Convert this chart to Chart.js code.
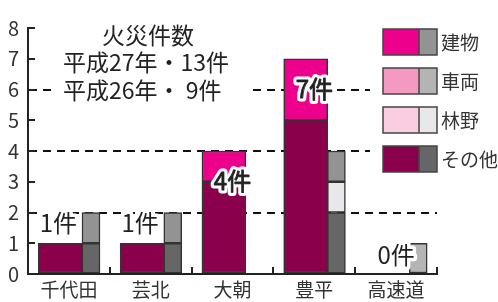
<!DOCTYPE html>
<html>
<head>
<meta charset="utf-8">
<script src="https://cdn.jsdelivr.net/npm/chart.js@4.4.1/dist/chart.umd.min.js"></script>
<style>
  html, body { margin: 0; padding: 0; background: #fff; }
  #wrap { position: relative; width: 498px; height: 302px; }
</style>
</head>
<body>
<div id="wrap"><canvas id="fire-chart" width="498" height="302"></canvas></div>
<script>
const areas = ['千代田', '芸北', '大朝', '豊平', '高速道'];
const kinds = ['建物', '車両', '林野', 'その他'];

// 平成27年 (bottom to top: その他, 林野, 車両, 建物)
const h27Building = [0, 0, 1, 2, 0];
const h27Vehicle = [0, 0, 0, 0, 0];
const h27Forest = [0, 0, 0, 0, 0];
const h27Other = [1, 1, 3, 5, 0];

// 平成26年
const h26Building = [1, 1, 0, 1, 0];
const h26Vehicle = [0, 0, 0, 0, 1];
const h26Forest = [0, 0, 0, 1, 0];
const h26Other = [1, 1, 0, 2, 0];

const yMin = 0;
const yMax = 8;
const dashedAt = [2, 4, 6];
const titleLines = ['火災件数', '平成27年・13件', '平成26年・ 9件'];

const curColors = { '建物': '#EC008C', '車両': '#F49AC1', '林野': '#FACDE0', 'その他': '#8B004B' };
const prevColors = { '建物': '#939393', '車両': '#B4B4B4', '林野': '#E8E8EA', 'その他': '#666666' };

const FONT = '"Noto Sans CJK JP", "Noto Sans", sans-serif';
const CUR_SHIFT = -0.105;  // current bar sits left of the category centre
const PREV_SHIFT = 0.27;   // previous-year bar sits to its right

const h27Total = areas.map((_, i) => h27Building[i] + h27Vehicle[i] + h27Forest[i] + h27Other[i]);

const toPoints = values => values.map((v, i) => ({ x: i, y: v === 0 ? null : v }));

const barDataset = (label, values, color, axis, width) => ({
  label,
  data: toPoints(values),
  backgroundColor: color,
  borderColor: '#333',
  borderWidth: 1.5,
  borderSkipped: false,
  barThickness: width,
  grouped: false,
  xAxisID: axis,
  stack: axis
});

const datasets = [
  barDataset('その他', h27Other, curColors['その他'], 'xc', 44),
  barDataset('林野', h27Forest, curColors['林野'], 'xc', 44),
  barDataset('車両', h27Vehicle, curColors['車両'], 'xc', 44),
  barDataset('建物', h27Building, curColors['建物'], 'xc', 44),
  barDataset('その他', h26Other, prevColors['その他'], 'xp', 18),
  barDataset('林野', h26Forest, prevColors['林野'], 'xp', 18),
  barDataset('車両', h26Vehicle, prevColors['車両'], 'xp', 18),
  barDataset('建物', h26Building, prevColors['建物'], 'xp', 18)
];

// white boxes with title and legend, drawn over the grid but under the bars
const overlay = {
  id: 'overlay',
  beforeDatasetsDraw(chart) {
    const ctx = chart.ctx;
    ctx.save();
    ctx.fillStyle = '#fff';
    ctx.fillRect(55, 18, 193, 86);
    ctx.fillRect(370, 20, 128, 158);

    ctx.fillStyle = '#222';
    ctx.font = '23px ' + FONT;
    ctx.textBaseline = 'middle';
    ctx.textAlign = 'center';
    ctx.fillText(titleLines[0], 148, 35);
    ctx.textAlign = 'left';
    ctx.fillText(titleLines[1], 63, 62.5);
    ctx.fillText(titleLines[2], 63, 90);

    ctx.font = '19px ' + FONT;
    kinds.forEach((kind, i) => {
      const top = 29 + i * 39;
      ctx.fillStyle = curColors[kind];
      ctx.fillRect(383, top, 36, 26);
      ctx.fillStyle = prevColors[kind];
      ctx.fillRect(419, top, 18, 26);
      ctx.strokeStyle = '#444';
      ctx.lineWidth = 1.5;
      ctx.strokeRect(383, top, 54, 26);
      ctx.beginPath();
      ctx.moveTo(419, top);
      ctx.lineTo(419, top + 26);
      ctx.stroke();
      ctx.fillStyle = '#333';
      ctx.fillText(kind, 441, top + 14);
    });
    ctx.restore();
  }
};

const countLabels = {
  id: 'countLabels',
  afterDatasetsDraw(chart) {
    const { ctx, scales } = chart;
    ctx.save();
    ctx.font = '24px ' + FONT;
    ctx.textAlign = 'center';
    ctx.textBaseline = 'middle';
    ctx.lineJoin = 'round';
    h27Total.forEach((total, i) => {
      const top = scales.y.getPixelForValue(total);
      let px, py;
      if (total >= 4) {
        px = scales.x.getPixelForValue(i);
        py = top + 30;
      } else if (total > 0) {
        px = scales.xc.getPixelForValue(i) - 2;
        py = top - 20;
      } else {
        px = scales.x.getPixelForValue(i);
        py = top - 19;
      }
      const text = total + '件';
      ctx.strokeStyle = '#fff';
      ctx.lineWidth = 7;
      ctx.strokeText(text, px, py);
      ctx.fillStyle = '#222';
      ctx.fillText(text, px, py);
      if (total >= 4) {
        ctx.strokeStyle = '#222';
        ctx.lineWidth = 0.8;
        ctx.strokeText(text, px, py);
      }
    });
    ctx.restore();
  }
};

const hiddenAxis = shift => ({
  type: 'linear',
  display: false,
  offset: false,
  min: -0.5 - shift,
  max: areas.length - 0.5 - shift
});

new Chart(document.getElementById('fire-chart'), {
  type: 'bar',
  data: { labels: areas, datasets },
  options: {
    responsive: false,
    animation: false,
    layout: { padding: { top: 17, right: 61, left: 0, bottom: 0 } },
    plugins: {
      legend: { display: false },
      tooltip: { enabled: false }
    },
    scales: {
      x: {
        type: 'category',
        offset: true,
        bounds: 'ticks',
        grid: {
          offset: true,
          drawOnChartArea: false,
          drawTicks: true,
          tickLength: -7,
          tickColor: '#222',
          tickWidth: 2,
          lineWidth: 2
        },
        border: { display: true, color: '#222', width: 2 },
        ticks: { color: '#333', padding: 11, font: { family: FONT, size: 19 } },
        afterFit: s => { s.height = 26; }
      },
      xc: hiddenAxis(CUR_SHIFT),
      xp: hiddenAxis(PREV_SHIFT),
      y: {
        stacked: true,
        min: yMin,
        max: yMax,
        ticks: { stepSize: 1, color: '#333', padding: 16, font: { family: FONT, size: 20 } },
        grid: {
          color: c => dashedAt.includes(c.tick.value) ? '#111' : 'rgba(0,0,0,0)',
          lineWidth: 2,
          tickLength: -7,
          tickColor: '#222',
          tickWidth: 2,
          tickBorderDash: []
        },
        border: { display: true, color: '#222', width: 2, dash: [8, 6] },
        afterFit: s => { s.width = 28; }
      }
    }
  },
  plugins: [overlay, countLabels]
});
</script>
</body>
</html>
